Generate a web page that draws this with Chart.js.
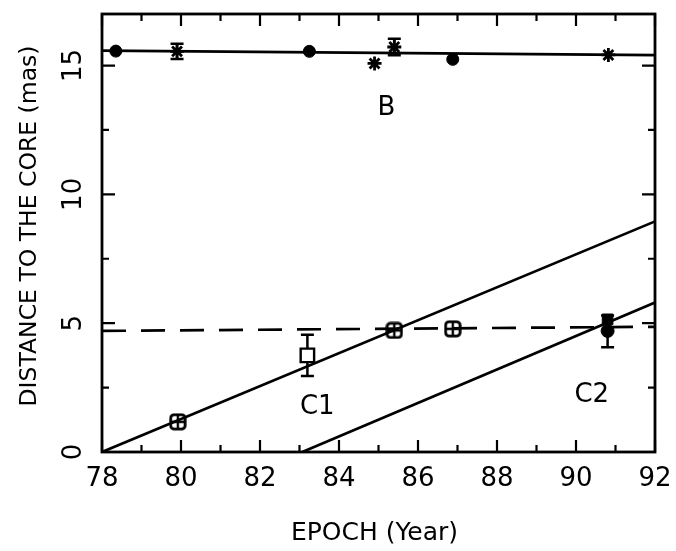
<!DOCTYPE html>
<html><head><meta charset="utf-8">
<script src="https://cdn.jsdelivr.net/npm/chart.js@4.4.0/dist/chart.umd.min.js"></script>
<style>html,body{margin:0;padding:0;background:#fff;} #wrap{width:676px;height:551px;position:relative;}</style>
</head><body><div id="wrap"><canvas id="c" width="676" height="551"></canvas></div>
<script>
// ---- axis ticks ----
const xTicks = [78, 80, 82, 84, 86, 88, 90, 92];
const xMinorTicks = [79, 81, 83, 85, 87, 89, 91];
const yTicks = [0, 5, 10, 15];
const yMinorTicks = [2.5, 7.5, 12.5];
const xTitle = 'EPOCH (Year)';
const yTitle = 'DISTANCE TO THE CORE (mas)';

// ---- component B ----
const bDotEpochs = [78.35, 83.25, 86.88];
const bDotValues = [15.56, 15.55, 15.24];
const bStarEpochs = [79.9, 84.9, 85.4, 90.82];
const bStarValues = [15.55, 15.08, 15.72, 15.41];
const bStarErrors = [0.3, 0, 0.32, 0];
const bFitEpochs = [78, 92];
const bFitValues = [15.58, 15.40];

// ---- component C1 ----
const c1Epochs = [79.92, 85.4, 86.88];
const c1Values = [1.17, 4.72, 4.78];
const c1OpenEpochs = [83.2];
const c1OpenValues = [3.75];
const c1OpenErrors = [0.8];
const c1FitEpochs = [78, 92];
const c1FitValues = [0, 8.95];
const meanEpochs = [78, 92];
const meanValues = [4.7, 4.86];

// ---- component C2 ----
const c2Epochs = [90.8];
const c2Values = [4.7];
const c2TopValues = [5.15];
const c2ErrLow = [4.07];
const c2ErrHigh = [5.3];
const c2FitEpochs = [83.07, 92];
const c2FitValues = [0, 5.8];

// ---- in-plot labels ----
const labelTexts = ['B', 'C1', 'C2'];
const labelEpochs = [85.2, 83.45, 90.4];
const labelValues = [13.35, 1.75, 2.2];

const FONT = '"DejaVu Sans", sans-serif';

function pts(xs, ys) { return xs.map((x, i) => ({x: x, y: ys[i]})); }

function boxCross() {
  const c = document.createElement('canvas');
  c.width = 18; c.height = 18;
  const g = c.getContext('2d');
  g.strokeStyle = '#000';
  g.lineWidth = 2.8;
  g.beginPath();
  if (g.roundRect) g.roundRect(1.8, 1.8, 14.4, 14.4, 3.5); else g.rect(1.8, 1.8, 14.4, 14.4);
  g.stroke();
  g.lineWidth = 2.4;
  g.beginPath();
  g.moveTo(9, 2); g.lineTo(9, 16);
  g.moveTo(2, 9); g.lineTo(16, 9);
  g.stroke();
  return c;
}

const lineDs = (xs, ys, dash) => ({
  data: pts(xs, ys), showLine: true, pointRadius: 0, borderColor: '#000',
  borderWidth: 2.7, borderDash: dash || [], fill: false, tension: 0
});

const datasets = [
  lineDs(bFitEpochs, bFitValues),
  lineDs(c1FitEpochs, c1FitValues),
  lineDs(c2FitEpochs, c2FitValues),
  lineDs(meanEpochs, meanValues, [24, 15]),
  {data: pts(bDotEpochs, bDotValues), pointStyle: 'circle', pointRadius: 6,
   backgroundColor: '#000', borderColor: '#000', borderWidth: 1},
  {data: pts(bStarEpochs, bStarValues), pointStyle: 'star', pointRadius: 7,
   backgroundColor: '#000', borderColor: '#000', borderWidth: 2.8,
   errLow: bStarValues.map((v, i) => v - bStarErrors[i]), errHigh: bStarValues.map((v, i) => v + bStarErrors[i])},
  {data: pts(c1Epochs, c1Values), pointStyle: boxCross(), pointRadius: 8},
  {data: pts(c1OpenEpochs, c1OpenValues), pointStyle: 'rect', pointRadius: 9.5,
   backgroundColor: '#fff', borderColor: '#000', borderWidth: 2.4,
   errLow: c1OpenValues.map((v, i) => v - c1OpenErrors[i]), errHigh: c1OpenValues.map((v, i) => v + c1OpenErrors[i])},
  {data: pts(c2Epochs, c2Values), pointStyle: 'circle', pointRadius: 6.5,
   backgroundColor: '#000', borderColor: '#000', borderWidth: 1,
   errLow: c2ErrLow, errHigh: c2ErrHigh},
  {data: pts(c2Epochs, c2TopValues), pointStyle: 'rect', pointRadius: 7.5,
   backgroundColor: '#000', borderColor: '#000', borderWidth: 1}
];

const decor = {
  id: 'decor',
  beforeDatasetsDraw(chart) {
    const ctx = chart.ctx, xs = chart.scales.x, ys = chart.scales.y;
    ctx.save();
    ctx.strokeStyle = '#000';
    ctx.lineWidth = 2.5;
    chart.data.datasets.forEach(ds => {
      if (!ds.errLow) return;
      ds.data.forEach((p, i) => {
        if (ds.errHigh[i] - ds.errLow[i] <= 0.001) return;
        const px = xs.getPixelForValue(p.x);
        const y1 = ys.getPixelForValue(ds.errLow[i]);
        const y2 = ys.getPixelForValue(ds.errHigh[i]);
        ctx.beginPath();
        ctx.moveTo(px, y1); ctx.lineTo(px, y2);
        ctx.moveTo(px - 6.5, y1); ctx.lineTo(px + 6.5, y1);
        ctx.moveTo(px - 6.5, y2); ctx.lineTo(px + 6.5, y2);
        ctx.stroke();
      });
    });
    ctx.restore();
  },
  afterDraw(chart) {
    const ctx = chart.ctx, a = chart.chartArea, xs = chart.scales.x, ys = chart.scales.y;
    ctx.save();
    ctx.strokeStyle = '#000';
    ctx.lineWidth = 2.8;
    ctx.strokeRect(a.left, a.top, a.right - a.left, a.bottom - a.top);
    ctx.lineWidth = 2.2;
    ctx.beginPath();
    const xt = (v, len) => {
      const p = xs.getPixelForValue(v);
      ctx.moveTo(p, a.bottom); ctx.lineTo(p, a.bottom - len);
      ctx.moveTo(p, a.top); ctx.lineTo(p, a.top + len);
    };
    const yt = (v, len) => {
      const p = ys.getPixelForValue(v);
      ctx.moveTo(a.left, p); ctx.lineTo(a.left + len, p);
      ctx.moveTo(a.right, p); ctx.lineTo(a.right - len, p);
    };
    xTicks.forEach(v => xt(v, 12));
    xMinorTicks.forEach(v => xt(v, 7));
    yTicks.forEach(v => yt(v, 13));
    yMinorTicks.forEach(v => yt(v, 7));
    ctx.stroke();

    ctx.fillStyle = '#000';
    ctx.font = '26px ' + FONT;
    ctx.textAlign = 'center';
    ctx.textBaseline = 'middle';
    // rotated y tick labels
    yTicks.forEach(v => {
      const p = ys.getPixelForValue(v);
      ctx.save();
      ctx.translate(74, p);
      ctx.rotate(-Math.PI / 2);
      ctx.fillText(String(v), 0, 0);
      ctx.restore();
    });
    // axis titles
    ctx.font = '25px ' + FONT;
    ctx.fillText(xTitle, (a.left + a.right) / 2 - 4, 533);
    ctx.font = '23.5px ' + FONT;
    ctx.save();
    ctx.translate(30, (a.top + a.bottom) / 2 - 7);
    ctx.rotate(-Math.PI / 2);
    ctx.fillText(yTitle, 0, 0);
    ctx.restore();
    // in-plot labels
    ctx.font = '26px ' + FONT;
    labelTexts.forEach((t, i) => {
      ctx.fillText(t, xs.getPixelForValue(labelEpochs[i]), ys.getPixelForValue(labelValues[i]));
    });
    ctx.restore();
  }
};

new Chart(document.getElementById('c'), {
  type: 'scatter',
  data: {datasets: datasets},
  options: {
    responsive: false,
    animation: false,
    events: [],
    layout: {padding: {top: 14, right: 21, left: 0, bottom: 0}},
    plugins: {legend: {display: false}, tooltip: {enabled: false}},
    scales: {
      x: {
        type: 'linear', min: 78, max: 92,
        afterBuildTicks: s => { s.ticks = xTicks.map(v => ({value: v})); },
        afterFit: s => { s.height = 99; s.paddingLeft = 0; s.paddingRight = 0; },
        grid: {display: false, drawTicks: false},
        border: {display: false},
        ticks: {color: '#000', padding: 12, font: {family: FONT, size: 26}, maxRotation: 0, autoSkip: false}
      },
      y: {
        type: 'linear', min: 0, max: 17,
        afterBuildTicks: s => { s.ticks = yTicks.map(v => ({value: v})); },
        afterFit: s => { s.width = 102; s.paddingTop = 0; s.paddingBottom = 0; },
        grid: {display: false, drawTicks: false},
        border: {display: false},
        ticks: {display: false}
      }
    }
  },
  plugins: [decor]
});
</script>
</body></html>
